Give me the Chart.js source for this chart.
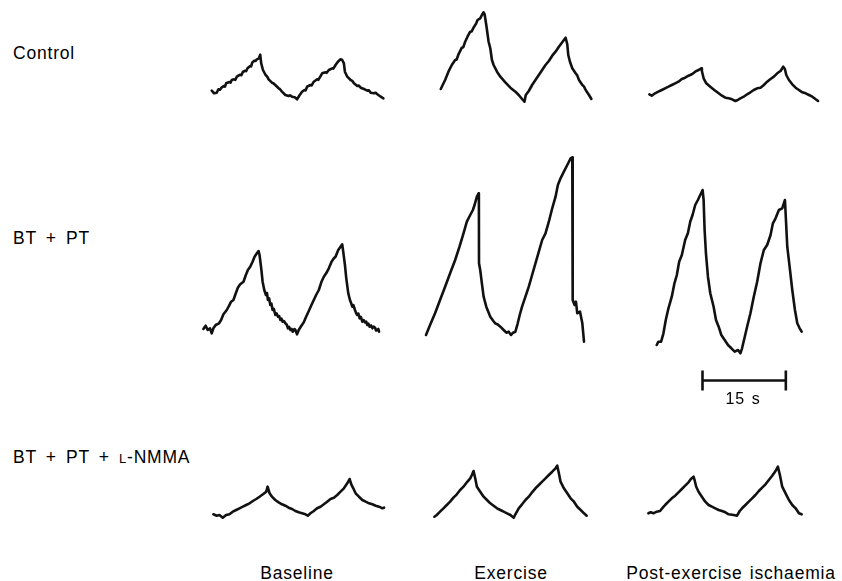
<!DOCTYPE html>
<html>
<head>
<meta charset="utf-8">
<script src="https://cdn.jsdelivr.net/npm/chart.js@4.4.1/dist/chart.umd.min.js"></script>
<style>
  html, body { margin: 0; background: #fff; }
  #fig { position: relative; width: 842px; height: 581px; overflow: hidden;
         font-family: "Liberation Sans", Arial, Helvetica, sans-serif; color: #000; }
  #fig canvas { position: absolute; }
  .lbl { position: absolute; font-size: 17.5px; line-height: 17.5px; white-space: nowrap;
         letter-spacing: 0.8px; word-spacing: 1.5px; }
  .cond { word-spacing: 3.5px; }
  .ctr { transform: translateX(-50%); }
  .sc { font-variant: small-caps; font-size: 19px; }
</style>
</head>
<body>
<div id="fig"></div>
<script>
// Row and column headings
const conditions = ['Control', 'BT + PT', 'BT + PT + <span class="sc">l</span>-NMMA'];
const phases = ['Baseline', 'Exercise', 'Post-exercise ischaemia'];

// Recorded traces: [time (s), amplitude (arbitrary units)]
const controlBaseline = [[2.11,14.3],[2.53,11.7],[3.01,12.3],[3.31,15.7],[3.6,15.2],[3.92,17.7],[4.34,19],[4.5,18.4],[4.7,21.7],[5.3,23],[5.5,22.4],[5.72,25],[6.14,25.7],[6.35,25.1],[6.63,28.3],[7.23,30.3],[7.45,29.8],[7.71,33],[8.13,34.3],[8.3,33.8],[8.55,36.7],[9.04,39],[9.2,38.6],[9.4,42.3],[9.76,44.3],[10.0,44],[10.24,45.7],[10.6,46.7],[10.84,50.3],[11.02,41.7],[11.33,35],[11.81,30],[12.1,28.4],[12.35,25.7],[12.95,22.3],[13.2,21.8],[13.55,20],[14.16,16.7],[14.4,15.8],[14.76,13.3],[15.36,10],[15.96,9],[16.2,9.6],[16.57,8.3],[17.05,7.7],[17.47,5.7],[17.95,10],[18.37,13.3],[18.8,15],[19.0,14.6],[19.28,18.3],[19.88,20],[20.1,19.6],[20.48,23.3],[21.08,25.7],[21.3,25.2],[21.57,27.7],[21.99,31.7],[22.59,32.7],[22.8,32.2],[23.19,35],[23.8,36.7],[24.0,36.4],[24.4,40],[24.82,43.3],[25.3,45.7],[25.6,45],[25.9,41.7],[26.08,33.3],[26.51,28.3],[27.11,25],[27.4,24.2],[27.71,21.7],[28.31,19],[28.6,19.4],[28.92,17.3],[29.64,15.7],[30.12,14.3],[30.4,14.8],[30.72,12.3],[31.33,11.7],[31.6,12.3],[31.93,10.7],[32.53,8.3],[33.01,6.7]];
const controlExercise = [[3.74,16],[4.52,25],[5.12,33.3],[5.72,40],[6.33,45],[6.6,45.5],[6.93,50.7],[7.53,57.3],[7.8,57.8],[8.13,63.3],[8.55,68.3],[9.04,73.3],[9.3,73.6],[9.64,77.3],[10.12,81.7],[10.36,85],[10.84,86.7],[11.14,90],[11.45,92.7],[11.63,90.7],[11.93,80],[12.35,63.3],[12.65,56.7],[12.95,45],[13.25,40],[13.86,33.3],[14.46,28.3],[15.36,22.7],[16.27,17.3],[17.17,13.3],[17.77,10],[18.37,6],[18.8,3.3],[19.04,10],[19.58,14],[20.18,20],[20.78,25],[21.39,30],[21.99,35],[22.59,40],[23.19,44],[23.8,49.3],[24.4,53.3],[25.0,58.3],[25.6,62.7],[25.9,65],[26.21,67.3],[26.51,60.7],[26.69,50],[26.99,43.3],[27.41,36.7],[28.01,31.7],[28.3,29.6],[28.62,25],[29.22,20],[29.5,18.6],[29.82,15],[30.42,10],[30.85,6]];
const controlPostExercise = [[1.69,10.7],[2.11,9.3],[2.71,11.7],[3.31,13.3],[3.92,15],[4.52,16.7],[5.12,18.3],[5.72,20],[6.33,21.7],[6.93,23.3],[7.53,26],[8.13,27.3],[8.73,29.3],[9.34,30.7],[9.94,33.3],[10.54,35],[11.02,36.7],[11.14,34],[11.45,26.7],[11.93,21.7],[12.65,18.3],[13.37,15],[14.16,11.7],[14.76,9.3],[15.36,7.3],[15.96,6.7],[16.57,5.7],[17.17,4],[17.59,5],[18.07,6.7],[18.67,8.3],[19.28,10.7],[19.88,12.7],[20.48,15],[21.08,16.7],[21.69,17.3],[22.29,20],[22.89,23.3],[23.49,26],[24.1,28.3],[24.7,31.7],[25.3,34],[25.78,38.3],[26.08,36],[26.33,30],[26.81,25],[27.41,20.7],[28.01,17.3],[28.61,15],[29.22,12.7],[29.82,11.7],[30.42,10],[31.02,8.3],[31.63,5.7],[32.05,4]];

const blockBaseline = [[0.6,31],[1.02,34.3],[1.39,30],[1.81,31.7],[2.11,26.7],[2.41,31.7],[2.83,35],[3.43,36.7],[3.8,40],[4.22,45.7],[4.82,50],[5.24,54.3],[5.6,58.3],[6.02,60],[6.33,65],[6.81,72.3],[7.23,75.7],[7.83,78.3],[8.25,85],[8.62,90],[9.04,93.3],[9.46,98.3],[9.82,103.3],[10.24,106.7],[10.54,109],[10.72,105],[11.02,91.7],[11.27,78.3],[11.57,70],[11.87,65],[12.05,67],[12.23,60],[12.45,61.5],[12.65,55],[12.85,56.5],[13.07,50],[13.3,51],[13.56,45],[13.8,46.5],[14.04,43.3],[14.25,44],[14.46,40],[14.65,41.5],[14.88,38.3],[15.1,39],[15.36,36.7],[15.6,35.5],[15.84,31.7],[16.05,33],[16.27,30],[16.5,31],[16.69,28.3],[17.0,31],[17.17,30],[17.47,25.7],[17.77,30],[18.25,34.3],[18.68,37.7],[19.1,43.3],[19.58,49],[20.06,55],[20.48,60],[20.9,65],[21.39,70],[21.87,78.3],[22.29,83.3],[22.71,86.7],[23.19,91.7],[23.68,98.3],[24.1,101.7],[24.4,103.3],[24.88,110],[25.3,113.3],[25.6,115.7],[25.78,108.3],[26.09,95],[26.33,81.7],[26.69,66.7],[26.99,60],[27.2,57],[27.41,53.3],[27.6,55],[27.89,50],[28.1,47],[28.31,45],[28.5,46.5],[28.74,41.7],[28.95,43],[29.22,38.3],[29.45,40],[29.7,37.7],[29.9,38.5],[30.12,35],[30.3,36.5],[30.54,33.3],[30.8,34.5],[31.03,31.7],[31.25,33.5],[31.51,32.3],[31.7,29.5],[31.93,30],[32.1,31],[32.23,28.3]];
const blockExercise = [[1.08,25],[1.81,35],[2.71,46.7],[3.61,60],[4.52,73.3],[5.42,86.7],[6.33,100],[7.11,113.3],[7.83,126.7],[8.43,138.3],[9.04,145],[9.52,150],[9.82,155],[10.24,163.3],[10.54,166.7],[10.6,160],[10.62,96.7],[10.84,90],[11.14,76.7],[11.45,63.3],[11.93,53.3],[12.65,43.3],[13.2,39],[13.55,36.7],[14.0,35.5],[14.46,33.3],[15.06,30],[15.54,27.3],[15.96,28.3],[16.39,25],[16.75,27.3],[17.17,28.3],[17.59,36.7],[17.95,45],[18.37,53.3],[18.98,63.3],[19.58,73.3],[20.18,85],[20.78,96.7],[21.39,108.3],[21.99,120],[22.59,126.7],[23.19,138.3],[23.8,151.7],[24.4,163.3],[24.82,175],[25.3,181.7],[25.9,188.3],[26.51,195],[27.11,201.7],[27.41,202.7],[27.45,180],[27.47,126.7],[27.53,60],[27.83,55],[28.07,58.3],[28.31,46.7],[28.8,48.3],[29.22,36.7],[29.52,18.3]];
const blockPostExercise = [[3.01,15],[3.31,18.3],[3.8,18.3],[4.22,26.7],[4.64,40],[5.12,51.7],[5.72,63.3],[6.2,76.7],[6.63,85],[7.05,98.3],[7.53,105],[8.13,120],[8.62,126.7],[9.04,138.3],[9.46,145],[9.94,155],[10.42,160],[10.84,165],[11.27,170],[11.45,160],[11.63,130],[11.87,106.7],[12.23,83.3],[12.65,66.7],[13.25,53.3],[13.68,40],[14.16,33.3],[14.64,25],[15.24,20],[15.84,15],[16.45,11.7],[17.05,8.3],[17.65,10],[18.07,6.7],[18.37,11.7],[18.86,23.3],[19.28,33.3],[19.88,46.7],[20.48,63.3],[21.09,78.3],[21.69,96.7],[22.29,110],[22.89,115],[23.5,125],[23.92,136.7],[24.4,141.7],[25.0,150],[25.6,151.7],[26.09,160],[26.21,146.7],[26.51,113.3],[26.93,93.3],[27.41,70],[27.89,50],[28.31,36.7],[28.74,31.7],[29.1,28.3]];

const nmmaBaseline = [[2.41,10.7],[3.01,9.3],[3.49,10],[4.1,7.3],[4.7,10],[5.3,10.7],[5.9,13.3],[6.51,15],[7.11,16.7],[7.71,18.3],[8.31,20],[8.92,21.7],[9.52,24],[10.12,26],[10.72,28.3],[11.33,30.7],[11.93,33.3],[12.17,38.3],[12.53,31.7],[12.95,28.3],[13.55,25],[14.16,22.7],[14.76,20.7],[15.36,19.3],[15.96,17.3],[16.57,16],[17.17,14],[17.77,12.7],[18.37,11.7],[18.98,10.7],[19.4,9.3],[19.88,11.7],[20.48,14],[21.08,16.7],[21.69,18.3],[22.29,20.7],[22.89,23.3],[23.49,26],[24.1,27.3],[24.7,30],[25.3,33.3],[25.9,36.7],[26.51,41.7],[26.93,46],[27.23,40.7],[27.59,36.7],[28.01,31.7],[28.61,28.3],[29.22,25],[29.82,23.3],[30.42,21.7],[31.02,20.7],[31.63,19.3],[32.23,18.3],[32.83,16.7],[33.13,17.3]];
const nmmaExercise = [[2.59,8.3],[3.01,10],[3.61,13.3],[4.22,16.7],[4.82,20],[5.42,23.3],[6.02,27.3],[6.63,30.7],[7.23,35],[7.83,38.3],[8.43,42.7],[9.04,46.7],[9.34,50],[9.64,54],[9.94,46.7],[10.24,38.3],[10.84,33.3],[11.45,28.3],[12.05,25],[12.65,21.7],[13.25,19.3],[13.86,16.7],[14.46,15],[15.06,13.3],[15.66,11.7],[16.27,10],[16.87,7.3],[17.17,10.7],[17.77,16.7],[18.37,20.7],[18.98,25],[19.58,28.3],[20.18,32.7],[20.78,36.7],[21.39,40],[21.99,43.3],[22.59,46.7],[23.19,50],[23.8,53.3],[24.4,56.7],[24.7,59.3],[25.0,51.7],[25.3,43.3],[25.9,36.7],[26.51,31.7],[27.11,26.7],[27.71,23.3],[28.31,18.3],[28.92,15],[29.52,11.7],[30.0,9.3]];
const nmmaPostExercise = [[1.51,11.7],[1.93,12.7],[2.41,11.7],[3.01,13.3],[3.61,14],[4.1,17.3],[4.52,20],[5.12,23.3],[5.72,26.7],[6.33,29.3],[6.93,32.7],[7.53,36],[8.13,39.3],[8.73,42.7],[9.16,46],[9.64,48.3],[9.82,45],[10.12,38.3],[10.54,33.3],[11.14,28.3],[11.75,23.3],[12.35,20],[12.95,18.3],[13.55,16.7],[14.16,15],[14.76,14],[15.36,12.7],[15.96,10.7],[16.87,10],[17.47,9.3],[17.95,14],[18.37,16.7],[18.98,20],[19.58,23.3],[20.18,26.7],[20.78,30],[21.39,34],[21.99,37.3],[22.59,40.7],[23.19,45],[23.8,49.3],[24.4,54],[24.82,58.3],[25.18,50],[25.6,38.3],[26.2,31.7],[26.81,25],[27.41,20],[28.01,16.7],[28.61,11.7],[29.1,10.7]];

// Calibration bar, drawn under the BT + PT post-exercise trace
const SCALE_BAR_SECONDS = 15;
const SCALE_BAR_START = 11.25;
const SCALE_BAR_LEVEL = -20.5;

// Grid of traces: rows = conditions, columns = phases
const traces = [
  [controlBaseline, controlExercise, controlPostExercise],
  [blockBaseline, blockExercise, blockPostExercise],
  [nmmaBaseline, nmmaExercise, nmmaPostExercise]
];

// Layout: shared time and amplitude scales for every panel
const PX_PER_S = 5.556;
const PX_PER_UNIT = 1;
const X_RANGE = [0, 36];
const COLUMN_LEFT = [200, 420, 640];
const ROW_ZERO = [105, 360, 525];
const ROW_RANGE = [[-5, 105], [-40, 220], [-5, 80]];

const fig = document.getElementById('fig');
const INK = '#111';

function addLabel(html, left, top, cls, size) {
  const d = document.createElement('div');
  d.className = 'lbl ' + cls;
  d.innerHTML = html;
  d.style.left = left + 'px';
  d.style.top = top + 'px';
  if (size) { d.style.fontSize = size + 'px'; d.style.lineHeight = size + 'px'; }
  fig.appendChild(d);
}

traces.forEach((row, r) => {
  row.forEach((pts, c) => {
    const [yMin, yMax] = ROW_RANGE[r];
    const canvas = document.createElement('canvas');
    const w = Math.round((X_RANGE[1] - X_RANGE[0]) * PX_PER_S);
    const h = Math.round((yMax - yMin) * PX_PER_UNIT);
    canvas.width = w; canvas.height = h;
    canvas.style.width = w + 'px'; canvas.style.height = h + 'px';
    canvas.style.left = COLUMN_LEFT[c] + 'px';
    canvas.style.top = (ROW_ZERO[r] - yMax * PX_PER_UNIT) + 'px';
    fig.appendChild(canvas);

    const datasets = [{
      data: pts.map(([x, y]) => ({ x, y })),
      borderColor: INK,
      borderWidth: 2.6,
      pointRadius: 0,
      tension: 0,
      borderJoinStyle: 'round',
      borderCapStyle: 'round',
      clip: false
    }];
    if (r === 1 && c === 2) {
      datasets.push({
        data: [{ x: SCALE_BAR_START, y: SCALE_BAR_LEVEL },
               { x: SCALE_BAR_START + SCALE_BAR_SECONDS, y: SCALE_BAR_LEVEL }],
        borderColor: INK,
        borderWidth: 2.4,
        pointStyle: 'line',
        pointRotation: 90,
        pointRadius: 10,
        pointBorderWidth: 2.6,
        pointBorderColor: INK,
        tension: 0,
        clip: false
      });
    }

    new Chart(canvas, {
      type: 'line',
      data: { datasets },
      options: {
        responsive: false,
        animation: false,
        events: [],
        devicePixelRatio: 1,
        layout: { padding: 0, autoPadding: false },
        plugins: { legend: { display: false }, tooltip: { enabled: false } },
        scales: {
          x: { type: 'linear', min: X_RANGE[0], max: X_RANGE[1], display: false },
          y: { type: 'linear', min: yMin, max: yMax, display: false }
        }
      }
    });
  });
});

// Condition labels (left) and phase labels (bottom)
const conditionTops = [44.5, 229.5, 447.5];
conditions.forEach((t, i) => addLabel(t, 13, conditionTops[i], 'cond'));
const phaseCentres = [297, 511, 731];
phases.forEach((t, i) => addLabel(t, phaseCentres[i], 564.5, 'ctr'));
addLabel('15 s', 743, 391, 'ctr', 16);
</script>
</body>
</html>
